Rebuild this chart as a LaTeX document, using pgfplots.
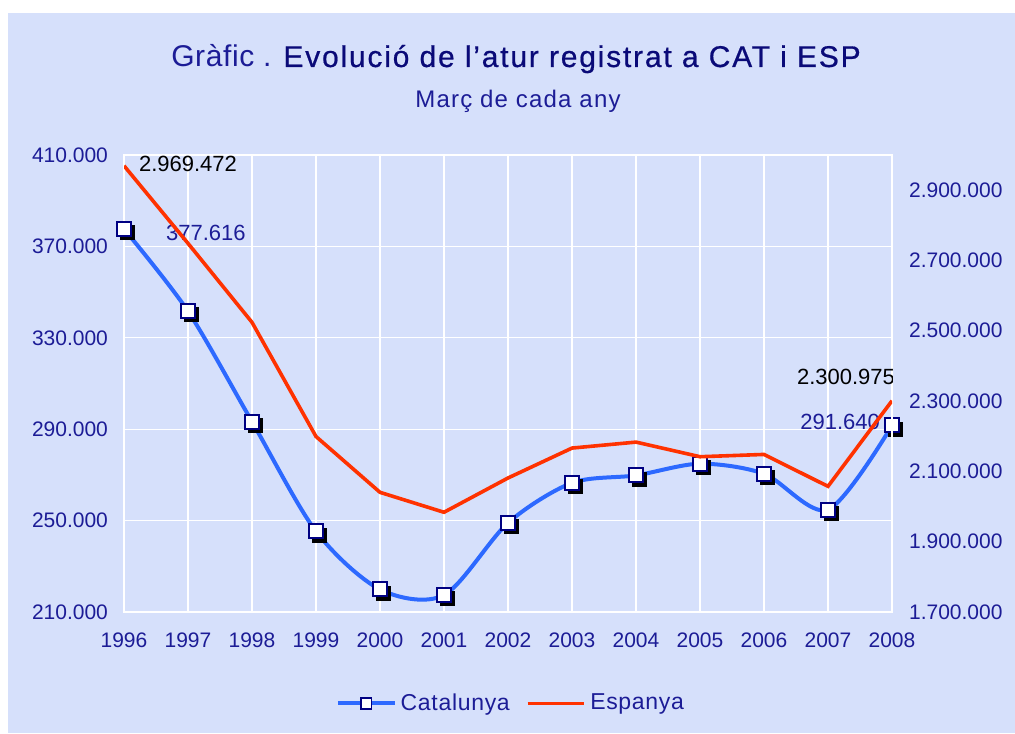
\documentclass[border=0pt]{standalone}
\usepackage{pgfplots}
\pgfplotsset{compat=1.18}
\usepackage{fontspec}
\setmainfont{Liberation Sans}
\definecolor{bg}{RGB}{214,224,251}
\definecolor{navytext}{RGB}{28,28,150}
\definecolor{titlenavy}{RGB}{10,10,120}
\definecolor{catblue}{RGB}{45,105,255}
\definecolor{espred}{RGB}{255,50,0}
\definecolor{mknavy}{RGB}{0,0,130}
\pgfplotstableread{
year cat
1996 377616
1997 341600
1998 293300
1999 245300
2000 219900
2001 217400
2002 249000
2003 266500
2004 269800
2005 274900
2006 270500
2007 254800
2008 291640
}\cattab
\pgfplotstableread{
year esp
1996 2969472
1997 2748700
1998 2524000
1999 2199200
2000 2040400
2001 1983700
2002 2081200
2003 2166300
2004 2183300
2005 2141700
2006 2148200
2007 2057400
2008 2300975
}\esptab
\begin{document}
\begin{tikzpicture}
\fill[white] (0,0) rectangle (507.5pt,366.5pt);
\fill[bg] (4pt,0) rectangle (507.5pt,360pt);
\node[anchor=base, text=navytext, font=\fontsize{15}{18}\selectfont] at (258pt,333pt) {\addfontfeatures{LetterSpace=2}Gràfic . {\color{titlenavy}\addfontfeatures{FakeBold=0.6,LetterSpace=6}Evolució de l'atur registrat a CAT i ESP}};
\node[anchor=base, text=navytext, font=\fontsize{12}{14}\selectfont] at (259pt,312.5pt) {\addfontfeatures{LetterSpace=5}Març de cada any};
\begin{axis}[
  at={(62pt,60.5pt)}, anchor=south west, scale only axis,
  width=384pt, height=228.5pt,
  xmin=1996, xmax=2008, ymin=210000, ymax=410000,
  xtick={1996,...,2008}, ytick={210000,250000,...,410000},
  grid=major, grid style={white, line width=0.6pt},
  axis line style={white, line width=0.6pt},
  major tick length=0pt,
  tick label style={font=\fontsize{10.5}{12}\selectfont, text=navytext},
  yticklabel style={xshift=-4.5pt},
  xticklabel style={yshift=-7pt, /pgf/number format/1000 sep={}},
  scaled y ticks=false, scaled x ticks=false,
  /pgf/number format/.cd, fixed, precision=0, 1000 sep={.}, assume math mode=true,
]
\addplot[catblue, line width=2pt, smooth, no markers] table[x=year,y=cat] {\cattab};
\addplot[only marks, mark=square*, mark size=3.5pt, mark options={fill=black, draw=black, xshift=1.8pt, yshift=-1.8pt}] table[x=year,y=cat] {\cattab};
\addplot[only marks, mark=square*, mark size=3.5pt, mark options={fill=white, draw=mknavy, line width=1pt}] table[x=year,y=cat] {\cattab};
\node[anchor=west, text=navytext, font=\fontsize{11}{12}\selectfont, xshift=17.5pt, yshift=-2pt] at (axis cs:1996,377616) {377.616};
\node[anchor=east, text=navytext, font=\fontsize{11}{12}\selectfont, xshift=-2.5pt, yshift=2pt] at (axis cs:2008,291640) {291.640};
\end{axis}
\begin{axis}[
  at={(62pt,60.5pt)}, anchor=south west, scale only axis,
  width=384pt, height=228.5pt,
  xmin=1996, xmax=2008, ymin=1700000, ymax=3000000,
  axis x line=none, axis y line*=right,
  ytick={1700000,1900000,...,2900000},
  axis line style={white, line width=0.6pt},
  major tick length=0pt,
  tick label style={font=\fontsize{10.5}{12}\selectfont, text=navytext},
  yticklabel style={xshift=5pt},
  scaled y ticks=false,
  legend style={at={(0.505,-0.2)}, anchor=center, draw=none, fill=none,
    legend columns=2, font=\fontsize{11.5}{14}\selectfont\addfontfeatures{LetterSpace=3}, text=navytext,
    /tikz/every even column/.append style={column sep=6pt}},
  legend image code/.code={\draw[mark repeat=2,mark phase=2] plot coordinates {(0cm,0cm) (0.5cm,0cm) (1cm,0cm)};},
  /pgf/number format/.cd, fixed, precision=0, 1000 sep={.}, assume math mode=true,
]
\addlegendimage{catblue, line width=2pt, mark=square*, mark size=2.6pt, mark options={fill=white, draw=mknavy, line width=0.9pt}}
\addlegendentry{Catalunya}
\addplot[espred, line width=1.8pt, no markers] table[x=year,y=esp] {\esptab};
\addlegendentry{Espanya}
\node[anchor=west, text=black, font=\fontsize{11}{12}\selectfont, xshift=4pt, yshift=1pt] at (axis cs:1996,2969472) {2.969.472};
\node[anchor=east, text=black, font=\fontsize{11}{12}\selectfont, xshift=5pt, yshift=12pt] at (axis cs:2008,2300975) {2.300.975};
\end{axis}
\end{tikzpicture}
\end{document}
